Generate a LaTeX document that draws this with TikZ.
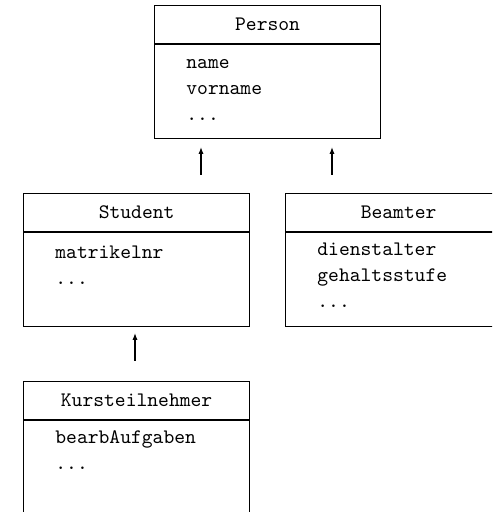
\documentclass[tikz,border=0pt]{standalone}
\usepackage{tikz}
\usetikzlibrary{arrows.meta}

\tikzset{
  classhead/.style={draw, line width=0.6pt, anchor=north west, minimum width=113pt, minimum height=19pt, inner sep=0pt, font=\fontsize{10.3}{13}\selectfont\ttfamily},
  classbody/.style={draw, line width=0.6pt, anchor=north west, minimum width=113pt, minimum height=47pt, inner sep=0pt},
  attrs/.style={anchor=base west, align=left, inner sep=0pt, font=\fontsize{10.3}{13}\selectfont\ttfamily},
  isa/.style={-{Latex[length=3.5pt,width=2.6pt]}, line width=0.6pt}
}

\begin{document}
\begin{tikzpicture}[x=0.5pt, y=0.5pt]
			%%%%% START %%%%%
			\useasboundingbox (0, 0) rectangle (492, 512);
			\clip (0, 0) rectangle (492, 512);
			
			% Person
			\node[classhead] (person) at (154, 507) {Person};
			\node[classbody] (person body) at (person.south west) {};
			\node[attrs] (person attrs) at (186, 391) {name\\vorname\\...};
			
			% Student
			\node[classhead] (student) at (23, 319) {Student};
			\node[classbody] (student body) at (student.south west) {};
			\node[attrs] (student attrs) at (55, 227) {matrikelnr\\...};
			
			% Beamter
			\node[classhead] (beamter) at (285, 319) {Beamter};
			\node[classbody] (beamter body) at (beamter.south west) {};
			\node[attrs] (beamter attrs) at (317, 204) {dienstalter\\gehaltsstufe\\...};
			
			% Kursteilnehmer
			\node[classhead] (kurs) at (23, 131) {Kursteilnehmer};
			\node[classbody] (kurs body) at (kurs.south west) {};
			\node[attrs] (kurs attrs) at (55, 42) {bearbAufgaben\\...};
			
			% arrows
			\coordinate (isa1 from) at (201, 337);
			\coordinate (isa1 to) at (201, 365);
			\coordinate (isa2 from) at (332, 337);
			\coordinate (isa2 to) at (332, 365);
			\coordinate (isa3 from) at (135, 151);
			\coordinate (isa3 to) at (135, 179);
			\draw[isa] (isa1 from) -- (isa1 to);
			\draw[isa] (isa2 from) -- (isa2 to);
			\draw[isa] (isa3 from) -- (isa3 to);
			
			%%%%% END %%%%%
\end{tikzpicture}
\end{document}
